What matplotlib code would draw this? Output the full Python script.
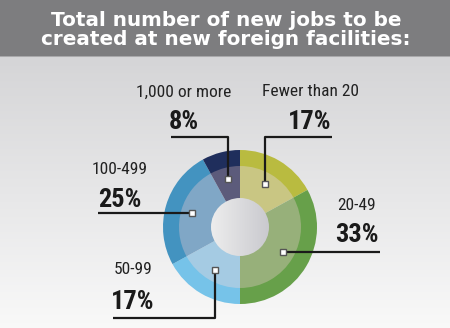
import numpy as np
import matplotlib
matplotlib.use('Agg')
import matplotlib.pyplot as plt
from matplotlib.patches import Rectangle, Circle

# donnees du graphique
categorias = ['Fewer than 20', '20-49', '50-99', '100-499', '1,000 or more']
percentuais = [17, 33, 17, 25, 8]
rotulos = ['17%', '33%', '17%', '25%', '8%']
cores_fora = ['#b9bb40', '#67a04a', '#76c3e9', '#4393c0', '#1f2e5c']
cores_dentro = ['#c9c683', '#97b07a', '#a5cbe3', '#80a7c6', '#5c5b7b']

titulo = ['Total number of new jobs to be', 'created at new foreign facilities:']

W, H = 450, 328
fig = plt.figure(figsize=(4.5, 3.28), dpi=100)
ax = fig.add_axes([0, 0, 1, 1])

def Y(y):
    # converte coordenada de pixel (de cima) para coordenada do eixo
    return H - y

# fundo com degrade
grad = np.linspace(0, 1, 256).reshape(-1, 1)
c_top = np.array([0.835, 0.835, 0.843])
c_bot = np.array([0.975, 0.975, 0.975])
img = c_top + (c_bot - c_top) * grad[:, :, None] * np.ones((1, 2, 1))
ax.imshow(img, extent=[0, W, Y(H), Y(57)], origin='upper', aspect='auto', zorder=0)

# faixa do titulo
ax.add_patch(Rectangle((0, Y(55.5)), W, 55.5, color='#7d7d7f', zorder=1, lw=0))
ax.add_patch(Rectangle((0, Y(57)), W, 1.5, color='#a9a9ab', zorder=1, lw=0))
for linha, yb in zip(titulo, [26, 45]):
    ax.text(226, Y(yb), linha, ha='center', va='baseline', color='white',
            fontsize=14.4, fontweight='bold', family='DejaVu Sans', zorder=3)

# pizza
cx, cy = 240, Y(227)
ax.pie(percentuais, radius=77, center=(cx, cy), startangle=90, counterclock=False,
       colors=cores_fora, wedgeprops=dict(width=17, linewidth=0))
ax.pie(percentuais, radius=61, center=(cx, cy), startangle=90, counterclock=False,
       colors=cores_dentro, wedgeprops=dict(width=33, linewidth=0))

# buraco do meio com degrade
gx = np.linspace(0, 1, 128).reshape(1, -1)
c_l = np.array([0.93, 0.93, 0.93])
c_r = np.array([0.79, 0.79, 0.81])
hole = c_l + (c_r - c_l) * gx[:, :, None] * np.ones((128, 1, 1))
im = ax.imshow(hole, extent=[cx - 29, cx + 29, cy - 29, cy + 29], origin='upper',
               aspect='auto', zorder=4)
im.set_clip_path(Circle((cx, cy), 29, transform=ax.transData))

# angulos medios das fatias
fim = 90 - np.cumsum(percentuais) * 3.6
ini = fim + np.array(percentuais) * 3.6
meio = np.radians((ini + fim) / 2)
mx = cx + 50 * np.cos(meio)
my = cy + 50 * np.sin(meio)

fonte = ['Roboto Condensed', 'DejaVu Sans']
lc = '#1a1a1a'

# linhas guia: (pontos do caminho em pixels a partir do marcador)
caminhos = [
    [(None, 137), (332, 137)],     # Fewer than 20
    [(380, None)],                 # 20-49
    [(None, 318), (113, 318)],     # 50-99
    [(98, None)],                  # 100-499
    [(None, 137), (171, 137)],     # 1,000 or more
]
pos_texto = [(310, 92, 122), (357, 206, 235), (133, 270, 302), (120, 170, 200), (184, 92, 122)]

for i in range(len(categorias)):
    xs, ys = [mx[i]], [my[i]]
    for px, py in caminhos[i]:
        xs.append(xs[-1] if px is None else px)
        ys.append(ys[-1] if py is None else Y(py))
    ax.plot(xs, ys, color=lc, lw=1.6, zorder=5, solid_capstyle='butt')
    ax.plot(mx[i], my[i], marker='s', ms=4.8, mfc='white', mec='#555555', mew=1.0, zorder=6)
    tx, ty1, ty2 = pos_texto[i]
    ax.text(tx, Y(ty1), categorias[i], ha='center', va='center', fontsize=12.5,
            family=fonte, color='#222222', zorder=5)
    ax.text(tx, Y(ty2), rotulos[i], ha='center', va='center', fontsize=19,
            fontweight='bold', family=fonte, color='#1a1a1a', zorder=5)

ax.set_xlim(0, W)
ax.set_ylim(0, H)
ax.set_aspect('auto')
ax.axis('off')

fig.savefig('out.png', dpi=100)
